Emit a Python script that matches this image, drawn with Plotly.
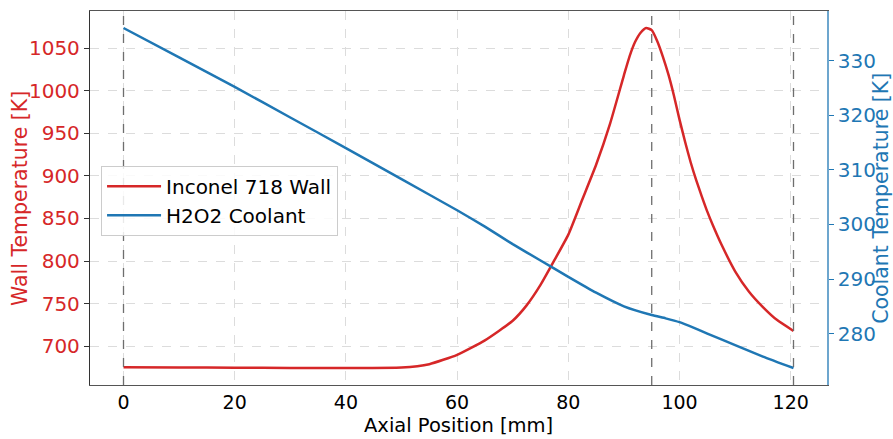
import plotly.graph_objects as go

# Axial positions [mm] and wall temperatures [K]
wall_x = [0, 10, 20, 30, 40, 50, 55, 60, 65, 70, 72.5, 75, 77.5, 80, 82.5, 85, 87.5, 90, 91,
          92, 93, 94, 95, 96, 97, 98, 99, 100, 101, 102, 103, 104, 105, 106, 107.5, 110,
          112.5, 115, 117.5, 120.5]
wall_T = [675.5, 675.2, 674.8, 674.6, 674.5, 675.0, 679, 690, 707, 730, 748, 772, 801, 831,
          872, 913, 961, 1018, 1040, 1057, 1068, 1073.5, 1071, 1058, 1040, 1019, 994, 966,
          940, 916, 895, 876, 858, 842, 820, 788, 764, 746, 731, 718]

# Axial positions [mm] and coolant temperatures [K]
cool_x = [0, 10, 20, 30, 40, 50, 60, 65, 70, 75, 80, 85, 90, 95, 97.5, 100, 102.5, 105,
          110, 115, 120.5]
cool_T = [336.0, 330.6, 325.2, 319.6, 314.0, 308.3, 302.6, 299.6, 296.4, 293.4, 290.4,
          287.5, 285.0, 283.4, 282.8, 282.1, 281.1, 280.0, 277.9, 275.8, 273.7]

# Reference stations (dashed lines) [mm]
stations = [0, 95, 120.5]

x_ticks = [0, 20, 40, 60, 80, 100, 120]
y_ticks = [700, 750, 800, 850, 900, 950, 1000, 1050]
y2_ticks = [280, 290, 300, 310, 320, 330]

x_title = "Axial Position [mm]"
y_title = "Wall Temperature [K]"
y2_title = "Coolant Temperature [K]"

RED = "#d62728"
BLUE = "#1f77b4"
FONT = "DejaVu Sans"

fig = go.Figure()
fig.add_trace(go.Scatter(x=wall_x, y=wall_T, mode="lines", name="Inconel 718 Wall",
                         line=dict(color=RED, width=2.5, shape="spline", smoothing=0.5)))
fig.add_trace(go.Scatter(x=cool_x, y=cool_T, mode="lines", name="H2O2 Coolant",
                         line=dict(color=BLUE, width=2.5, shape="spline", smoothing=0.5),
                         yaxis="y2"))

for s in stations:
    fig.add_shape(type="line", xref="x", yref="paper", x0=s, x1=s, y0=0, y1=1,
                  line=dict(color="#6e6e6e", width=1.3, dash="dash"), layer="above")

def pad(lo, hi):
    m = (hi - lo) * 0.05
    return [lo - m, hi + m]

fig.add_annotation(text=x_title, xref="paper", yref="paper", x=0.5, y=-0.1417,
                   xanchor="center", yanchor="bottom", showarrow=False, borderpad=0,
                   font=dict(family=FONT, size=19.5, color="black"))
fig.add_annotation(text=y_title, xref="paper", yref="paper", x=-0.095, y=0.5,
                   xanchor="center", yanchor="middle", showarrow=False, textangle=-90,
                   font=dict(family=FONT, size=20.5, color=RED))
fig.add_annotation(text=y2_title, xref="paper", yref="paper", x=1.073, y=0.5,
                   xanchor="center", yanchor="middle", showarrow=False, textangle=-90,
                   font=dict(family=FONT, size=20.5, color=BLUE))

fig.update_layout(
    width=893, height=439,
    margin=dict(l=90, r=66, t=11, b=54),
    paper_bgcolor="white", plot_bgcolor="white",
    font=dict(family=FONT, size=20, color="black"),
    showlegend=True,
    legend=dict(x=0.015, y=0.586, xanchor="left", yanchor="top",
                bgcolor="rgba(255,255,255,0.85)", bordercolor="#cccccc", borderwidth=1,
                font=dict(family=FONT, size=20, color="black"),
                itemwidth=54, tracegroupgap=0),
    xaxis=dict(range=pad(min(wall_x), max(wall_x)), tickvals=x_ticks,
               automargin=False,
               showgrid=True, gridcolor="#dcdcdc", griddash="dash", gridwidth=1,
               zeroline=False, showline=True, linecolor="#555555", linewidth=1.3,
               mirror=True, ticks="", ticklen=0,
               tickfont=dict(size=19, color="black")),
    yaxis=dict(range=pad(min(wall_T), max(wall_T)), tickvals=y_ticks,
               automargin=False,
               showgrid=True, gridcolor="#dcdcdc", griddash="dash", gridwidth=1,
               zeroline=False, showline=True, linecolor="#333333", linewidth=1.3,
               ticks="outside", ticklen=5, tickcolor="#333333",
               tickfont=dict(size=20, color=RED)),
    yaxis2=dict(range=pad(min(cool_T), max(cool_T)), overlaying="y", side="right",
                tickvals=y2_ticks,
                automargin=False,
                showgrid=False, zeroline=False, showline=True,
                linecolor="rgba(31,119,180,0.65)", linewidth=1.5,
                ticks="outside", ticklen=5, tickcolor=BLUE,
                tickfont=dict(size=20, color=BLUE)),
)

fig.write_html("out.html")
